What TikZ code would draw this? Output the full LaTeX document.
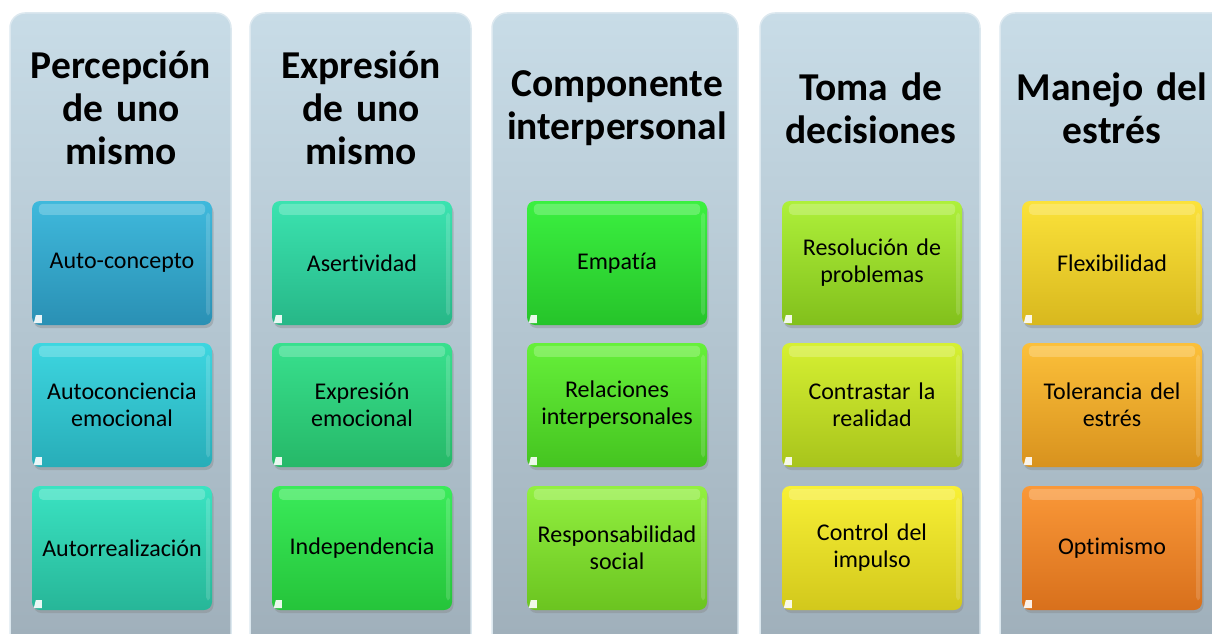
\documentclass[tikz,border=0pt]{standalone}
\usepackage{fontspec}
\setmainfont{Carlito}[Ligatures=NoCommon]
\usetikzlibrary{shadows}
\definecolor{colTop}{HTML}{C8DCE7}
\definecolor{colBot}{HTML}{9FAFBA}
\definecolor{colEdge}{HTML}{DCE8EF}
\definecolor{aT}{HTML}{3FB9DC}\definecolor{aB}{HTML}{2A90B4}
\definecolor{bT}{HTML}{3DD6E0}\definecolor{bB}{HTML}{28ADB8}
\definecolor{cT}{HTML}{3AE3C2}\definecolor{cB}{HTML}{27B698}
\definecolor{dT}{HTML}{3BE3B0}\definecolor{dB}{HTML}{27B787}
\definecolor{eT}{HTML}{38E08E}\definecolor{eB}{HTML}{26B868}
\definecolor{fT}{HTML}{3AEB5A}\definecolor{fB}{HTML}{25C43A}
\definecolor{gT}{HTML}{3BF040}\definecolor{gB}{HTML}{26C42A}
\definecolor{hT}{HTML}{66F03A}\definecolor{hB}{HTML}{45C420}
\definecolor{iT}{HTML}{92F040}\definecolor{iB}{HTML}{6BC420}
\definecolor{jT}{HTML}{AEF03A}\definecolor{jB}{HTML}{82C01C}
\definecolor{kT}{HTML}{D6F032}\definecolor{kB}{HTML}{A8C41C}
\definecolor{lT}{HTML}{F8F035}\definecolor{lB}{HTML}{D2C81C}
\definecolor{mT}{HTML}{FBE23A}\definecolor{mB}{HTML}{D8B81E}
\definecolor{nT}{HTML}{FCC03A}\definecolor{nB}{HTML}{D8921E}
\definecolor{oT}{HTML}{FA9838}\definecolor{oB}{HTML}{D8701C}
\tikzset{
  column/.style={draw=colEdge, line width=1.5pt, rounded corners=15pt, top color=colTop, bottom color=colBot},
  title/.style={font=\fontsize{39.5}{43}\selectfont\bfseries, align=center, text width=240pt},
  pill/.style={rounded corners=8pt, minimum width=180pt, minimum height=124pt, text width=176pt,
    align=center, font=\fontsize{24}{27}\selectfont, inner sep=0pt,
    drop shadow={opacity=0.35, shadow xshift=1.5pt, shadow yshift=-3pt}},
  pal/.style={top color=#1T, bottom color=#1B},
}
\newcommand\glossy[1]{%
  \fill[white, opacity=0.22, rounded corners=4pt] ([xshift=7pt,yshift=-3pt]#1.north west) rectangle ([xshift=-7pt,yshift=-14pt]#1.north east);
  \fill[white, opacity=0.15, rounded corners=3pt] ([xshift=-6pt,yshift=-12pt]#1.north east) rectangle ([xshift=-2pt,yshift=10pt]#1.south east);
  \fill[white, opacity=0.9] ([xshift=2pt,yshift=2pt]#1.south west) -- ++(8pt,0) -- ++(0,8pt) -- ++(-6pt,0) -- cycle;
}
\begin{document}
\begin{tikzpicture}[x=1pt,y=-1pt]
\useasboundingbox (0,0) rectangle (1212,634);
\begin{scope}
\clip (0,0) rectangle (1212,634);
\draw[column] (10,13) rectangle (231,650);
\draw[column] (250,13) rectangle (471,650);
\draw[column] (492,13) rectangle (738,650);
\draw[column] (760,13) rectangle (980,650);
\draw[column] (1000,13) rectangle (1232,650);
\end{scope}
% titles
\node[title] (t1) at (121,108) {Percepción\\de uno\\mismo};
\node[title] (t2) at (361,108) {Expresión\\de uno\\mismo};
\node[title, text width=250pt] (t3) at (617,108) {Componente\\interpersonal};
\node[title] (t4) at (871,108) {Toma de\\decisiones};
\node[title] (t5) at (1112,108) {Manejo del\\estrés};
% boxes
\node[pill, pal=a] (a1) at (122,263) {Auto-concepto};
\node[pill, pal=b] (a2) at (122,405) {Autoconciencia\\emocional};
\node[pill, pal=c] (a3) at (122,548) {Autorrealización};
\node[pill, pal=d] (b1) at (362,263) {Asertividad};
\node[pill, pal=e] (b2) at (362,405) {Expresión\\emocional};
\node[pill, pal=f] (b3) at (362,548) {Independencia};
\node[pill, pal=g] (c1) at (617,263) {Empatía};
\node[pill, pal=h] (c2) at (617,405) {Relaciones\\interpersonales};
\node[pill, pal=i] (c3) at (617,548) {Responsabilidad\\social};
\node[pill, pal=j] (d1) at (872,263) {Resolución de\\problemas};
\node[pill, pal=k] (d2) at (872,405) {Contrastar la\\realidad};
\node[pill, pal=l] (d3) at (872,548) {Control del\\impulso};
\node[pill, pal=m] (e1) at (1112,263) {Flexibilidad};
\node[pill, pal=n] (e2) at (1112,405) {Tolerancia del\\estrés};
\node[pill, pal=o] (e3) at (1112,548) {Optimismo};
\foreach \n in {a1,a2,a3,b1,b2,b3,c1,c2,c3,d1,d2,d3,e1,e2,e3}{\glossy{\n}}
\end{tikzpicture}
\end{document}
